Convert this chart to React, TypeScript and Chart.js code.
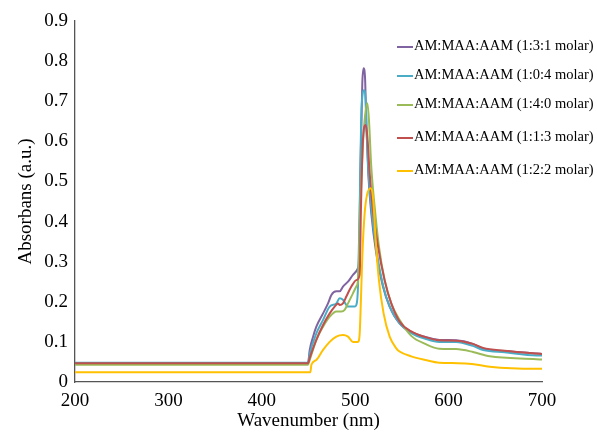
import React, { useEffect, useRef } from "react";
import { Chart, registerables } from "chart.js";

Chart.register(...registerables);

const seriesLabels = [
  "AM:MAA:AAM (1:3:1 molar)",
  "AM:MAA:AAM (1:0:4 molar)",
  "AM:MAA:AAM (1:4:0 molar)",
  "AM:MAA:AAM (1:1:3 molar)",
  "AM:MAA:AAM (1:2:2 molar)",
];
const seriesColors = ["#8064A2", "#4BACC6", "#9BBB59", "#C0504D", "#FFC000"];

const nm131 = [200, 449.5, 451.3, 454.9, 458.4, 465.6, 470.9, 474.5, 479.8, 483.4, 486.9, 492.3, 497.6, 503.0, 504.1, 505.5, 507.6, 509.0, 510.5, 511.9, 514.0, 517.2, 522.6, 529.7, 536.9, 547.5, 560, 575, 590, 608, 626, 637, 660, 694, 700];
const abs131 = [0.047, 0.047, 0.08, 0.113, 0.138, 0.171, 0.196, 0.217, 0.226, 0.226, 0.238, 0.25, 0.267, 0.284, 0.304, 0.52, 0.745, 0.782, 0.76, 0.645, 0.52, 0.421, 0.32, 0.238, 0.188, 0.146, 0.125, 0.112, 0.105, 0.104, 0.095, 0.083, 0.077, 0.071, 0.07];

const nm104 = [200, 449.5, 451.3, 458.4, 465.6, 472.7, 479.8, 483.4, 486.9, 492.3, 499.4, 501.2, 503.0, 504.8, 506.9, 509.8, 511.2, 512.6, 514.7, 518.3, 523.3, 529.7, 536.9, 547.5, 560, 575, 590, 608, 626, 637, 660, 694, 700];
const abs104 = [0.048, 0.048, 0.07, 0.121, 0.155, 0.188, 0.196, 0.209, 0.205, 0.188, 0.188, 0.192, 0.238, 0.437, 0.687, 0.728, 0.703, 0.604, 0.504, 0.412, 0.32, 0.242, 0.188, 0.146, 0.122, 0.108, 0.1, 0.1, 0.09, 0.08, 0.074, 0.066, 0.066];

const nm140 = [200, 449.5, 451.3, 458.4, 465.6, 472.7, 479.8, 485.2, 488.7, 492.3, 497.6, 501.2, 503.0, 505.5, 509.0, 513.0, 514.7, 517.2, 520.8, 525.4, 531.5, 538.6, 547.5, 560, 575, 590, 608, 626, 644, 694, 700];
const abs140 = [0.043, 0.043, 0.055, 0.105, 0.138, 0.163, 0.176, 0.176, 0.18, 0.196, 0.221, 0.238, 0.254, 0.437, 0.62, 0.695, 0.654, 0.537, 0.437, 0.338, 0.254, 0.196, 0.155, 0.115, 0.095, 0.083, 0.082, 0.075, 0.064, 0.057, 0.056];

const nm113 = [200, 449.5, 451.3, 458.4, 465.6, 472.7, 478.0, 481.6, 483.4, 486.9, 490.5, 495.9, 501.2, 504.8, 506.2, 508.3, 511.2, 513.0, 515.5, 519.0, 524.4, 531.5, 538.6, 547.5, 560, 575, 590, 608, 626, 637, 660, 694, 700];
const abs113 = [0.047, 0.047, 0.06, 0.105, 0.142, 0.171, 0.188, 0.196, 0.192, 0.196, 0.213, 0.238, 0.254, 0.267, 0.437, 0.604, 0.641, 0.612, 0.52, 0.429, 0.338, 0.254, 0.196, 0.151, 0.126, 0.112, 0.104, 0.103, 0.095, 0.085, 0.078, 0.071, 0.07];

const nm122 = [200, 452.0, 453.1, 458.4, 465.6, 472.7, 479.8, 486.9, 492.3, 497.6, 503.0, 504.8, 505.9, 507.6, 510.1, 512.6, 516.5, 519.0, 521.9, 525.4, 530.4, 536.9, 544.0, 547.5, 560, 575, 590, 610, 625, 644, 694, 700];
const abs122 = [0.024, 0.024, 0.043, 0.055, 0.08, 0.1, 0.113, 0.117, 0.113, 0.1, 0.1, 0.121, 0.188, 0.312, 0.42, 0.466, 0.483, 0.462, 0.354, 0.254, 0.171, 0.113, 0.084, 0.076, 0.064, 0.055, 0.048, 0.047, 0.045, 0.038, 0.033, 0.033];

const seriesX = [nm131, nm104, nm140, nm113, nm122];
const seriesY = [abs131, abs104, abs140, abs113, abs122];

const xTicks = [200, 300, 400, 500, 600, 700];
const yTicks = [0, 0.1, 0.2, 0.3, 0.4, 0.5, 0.6, 0.7, 0.8, 0.9];

const FONT = "'Liberation Serif', 'Times New Roman', serif";

const legendPlugin = {
  id: "customLegend",
  afterDraw(chart: any) {
    const ctx = chart.ctx;
    const ys = [46, 75, 104, 137, 170];
    ctx.save();
    ctx.font = `14.5px ${FONT}`;
    ctx.textBaseline = "middle";
    ctx.textAlign = "left";
    seriesLabels.forEach((lab, i) => {
      const y = ys[i];
      ctx.strokeStyle = seriesColors[i];
      ctx.lineWidth = 2;
      ctx.beginPath();
      ctx.moveTo(397, y + 1);
      ctx.lineTo(413, y + 1);
      ctx.stroke();
      ctx.fillStyle = "#000";
      ctx.fillText(lab, 414, y);
    });
    ctx.restore();
  },
};

export default function App() {
  const ref = useRef<HTMLCanvasElement | null>(null);
  useEffect(() => {
    if (!ref.current) return;
    const datasets = seriesLabels.map((label, i) => ({
      label,
      data: seriesX[i].map((x, j) => ({ x, y: seriesY[i][j] })),
      borderColor: seriesColors[i],
      backgroundColor: seriesColors[i],
      borderWidth: 2,
      pointRadius: 0,
      tension: 0.3,
      cubicInterpolationMode: "monotone" as const,
      order: seriesLabels.length - i,
    }));
    const chart = new Chart(ref.current, {
      type: "line",
      data: { datasets },
      options: {
        animation: false,
        responsive: false,
        layout: { padding: { left: 0, right: 55, top: 21, bottom: 0 } },
        plugins: { legend: { display: false }, tooltip: { enabled: false } },
        scales: {
          x: {
            type: "linear",
            min: 200,
            max: 700,
            afterBuildTicks: (s: any) => {
              s.ticks = xTicks.map((v) => ({ value: v }));
            },
            afterFit: (s: any) => {
              s.height = 50;
            },
            grid: { display: false, drawTicks: false },
            border: { display: true, color: "#555", width: 1.3 },
            ticks: {
              color: "#000",
              font: { family: FONT, size: 19 },
              padding: 8,
              maxRotation: 0,
            },
            title: {
              display: true,
              text: "Wavenumber (nm)",
              color: "#000",
              font: { family: FONT, size: 19 },
              padding: { top: 0, bottom: 0 },
            },
          },
          y: {
            type: "linear",
            min: 0,
            max: 0.9,
            afterBuildTicks: (s: any) => {
              s.ticks = yTicks.map((v) => ({ value: v }));
            },
            afterFit: (s: any) => {
              s.width = 75;
            },
            grid: { display: false, drawTicks: false },
            border: { display: true, color: "#555", width: 1.3 },
            ticks: {
              color: "#000",
              font: { family: FONT, size: 19 },
              padding: 7,
              callback: (v: any) => String(Number(Number(v).toFixed(1))),
            },
            title: {
              display: true,
              text: "Absorbans (a.u.)",
              color: "#000",
              font: { family: FONT, size: 19 },
              padding: { top: 15, bottom: 0 },
            },
          },
        },
      },
      plugins: [legendPlugin],
    });
    return () => chart.destroy();
  }, []);
  return (
    <div style={{ position: "absolute", left: 0, top: 0, width: 597, height: 432, background: "#fff" }}>
      <canvas ref={ref} width={597} height={432} style={{ display: "block", width: 597, height: 432 }} />
    </div>
  );
}
